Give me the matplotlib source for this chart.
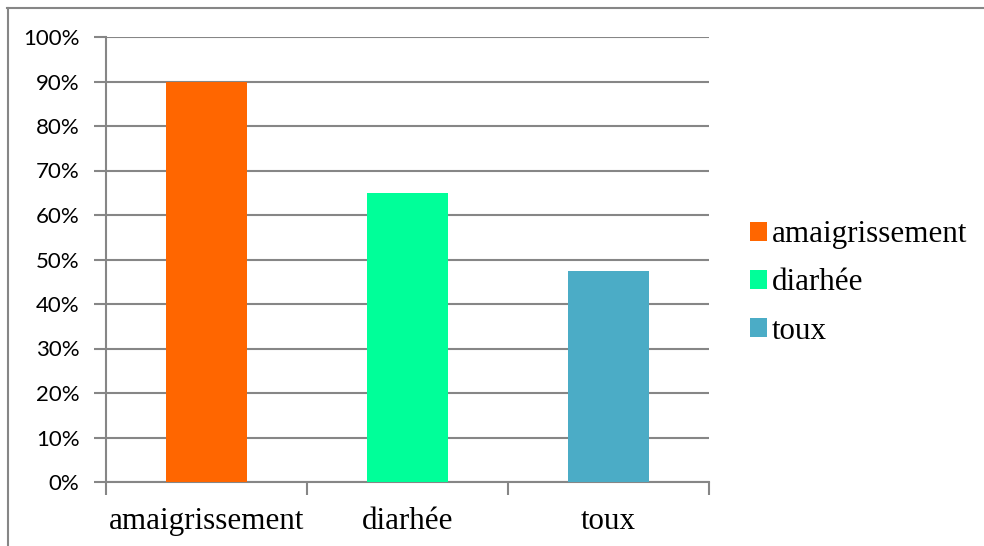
import matplotlib.pyplot as plt
from matplotlib.lines import Line2D
from matplotlib.patches import Patch

# symptom frequencies (% of patients)
categories = ['amaigrissement', 'diarhée', 'toux']
values = [90, 65, 47.5]
colors = ['#FF6600', '#00FF99', '#4BACC6']
yticks = list(range(0, 101, 10))

grid_col = '#868686'

fig = plt.figure(figsize=(9.84, 5.46), dpi=100)
W, H = 984, 546
ax = fig.add_axes([106 / W, 1 - 482 / H, 603 / W, 445 / H])

x = range(len(categories))
ax.bar(x, values, width=0.4, color=colors, zorder=3)

ax.set_xlim(-0.5, len(categories) - 0.5)
ax.set_ylim(0, 100)
ax.set_yticks(yticks)
ax.set_yticklabels([f'{v}%' for v in yticks], family='Lato', fontsize=16)
ax.yaxis.grid(True, color=grid_col, linewidth=1.5, zorder=0)

ax.set_xticks(list(x))
ax.set_xticklabels(categories, family='Liberation Serif', fontsize=22.3)
ax.set_xticks([i - 0.5 for i in range(len(categories) + 1)], minor=True)
ax.tick_params(axis='x', which='major', length=0, pad=18)
ax.tick_params(axis='x', which='minor', length=9, width=1.5, color=grid_col)
ax.tick_params(axis='y', length=9, width=1.5, color=grid_col, pad=10)

for side in ['top', 'right']:
    ax.spines[side].set_visible(False)
for side in ['left', 'bottom']:
    ax.spines[side].set_color(grid_col)
    ax.spines[side].set_linewidth(1.5)

handles = [Patch(facecolor=c, edgecolor='none') for c in colors]
fig.legend(handles, categories, loc='center left', bbox_to_anchor=(722 / W, 1 - 283 / H),
           frameon=False, prop={'family': 'Liberation Serif', 'size': 22.3},
           handlelength=0.55, handleheight=0.55, handletextpad=0.15, labelspacing=0.62)

# outer chart frame (top and left edges)
fig.add_artist(Line2D([7 / W, 1], [1 - 7.5 / H, 1 - 7.5 / H], color=grid_col, linewidth=1.5))
fig.add_artist(Line2D([7.5 / W, 7.5 / W], [0, 1 - 7.5 / H], color=grid_col, linewidth=1.5))

fig.savefig('out.png', dpi=100)
